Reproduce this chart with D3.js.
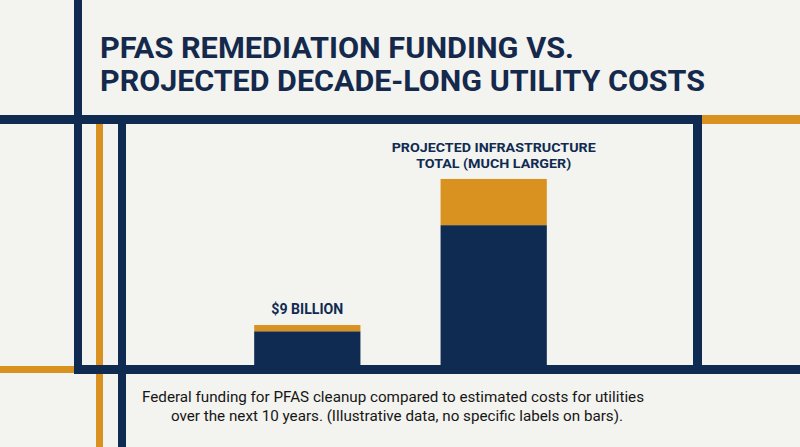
<!DOCTYPE html>
<html>
<head>
<meta charset="utf-8">
<script src="https://cdn.jsdelivr.net/npm/d3@7"></script>
<style>
  html, body { margin: 0; padding: 0; background: #f3f3ef; }
  svg { display: block; }
</style>
</head>
<body>
<svg id="chart" width="800" height="447"></svg>
<script>
// ---- data ----
const categories = ["Federal PFAS funding", "Projected utility costs"];
const baseValues = [7.6, 31.5];   // navy lower segment (billions, illustrative)
const topValues  = [1.4, 10.4];   // orange upper segment (billions, illustrative)
const barLabels  = [["$9 BILLION"], ["PROJECTED INFRASTRUCTURE", "TOTAL (MUCH LARGER)"]];
const titleLines = ["PFAS REMEDIATION FUNDING VS.", "PROJECTED DECADE-LONG UTILITY COSTS"];
const captionLines = [
  "Federal funding for PFAS cleanup compared to estimated costs for utilities",
  "over the next 10 years. (Illustrative data, no specific labels on bars)."
];

const NAVY = "#0f2b52", ORANGE = "#d9921f", BG = "#f3f3ef";

const svg = d3.select("#chart");
svg.append("rect").attr("width", 800).attr("height", 447).attr("fill", BG);

// ---- scales ----
const x = d3.scaleBand().domain(categories).range([161, 640]).paddingInner(0.43).paddingOuter(0.5);
const y = d3.scaleLinear().domain([0, 50]).range([365, 143]);

const table = categories.map((c, i) => ({ cat: c, base: baseValues[i], top: topValues[i] }));
const stacked = d3.stack().keys(["base", "top"])(table);
const colors = { base: NAVY, top: ORANGE };

// ---- decorative frame lines (behind) ----
const g = svg.append("g");
g.append("rect").attr("x", 96).attr("y", 124).attr("width", 7).attr("height", 323).attr("fill", ORANGE);
g.append("rect").attr("x", 0).attr("y", 366).attr("width", 75).attr("height", 7).attr("fill", ORANGE);
g.append("rect").attr("x", 702).attr("y", 115).attr("width", 98).attr("height", 9).attr("fill", ORANGE);
g.append("rect").attr("x", 0).attr("y", 115).attr("width", 702).attr("height", 9).attr("fill", NAVY);
g.append("rect").attr("x", 74).attr("y", 0).attr("width", 8).attr("height", 374).attr("fill", NAVY);
g.append("rect").attr("x", 118).attr("y", 124).attr("width", 8).attr("height", 323).attr("fill", NAVY);
g.append("rect").attr("x", 693).attr("y", 115).attr("width", 9).attr("height", 259).attr("fill", NAVY);
g.append("rect").attr("x", 74).attr("y", 365).attr("width", 726).attr("height", 9).attr("fill", NAVY);

// ---- bars ----
svg.append("g").selectAll("g").data(stacked).join("g")
  .attr("fill", d => colors[d.key])
  .selectAll("rect").data(d => d).join("rect")
  .attr("x", d => x(d.data.cat))
  .attr("width", x.bandwidth())
  .attr("y", d => y(d[1]))
  .attr("height", d => y(d[0]) - y(d[1]));

function fit(sel, w) {
  sel.attr("textLength", w).attr("lengthAdjust", "spacingAndGlyphs");
}

// ---- bar labels ----
const labelWidths = [[72], [204, 155]];
const labelSizes = [15, 13.5];
categories.forEach((c, i) => {
  const total = baseValues[i] + topValues[i];
  const lines = barLabels[i];
  const cx = x(c) + x.bandwidth() / 2;
  const baseY = y(total) - 11 - (lines.length - 1) * 16;
  lines.forEach((ln, j) => {
    const t = svg.append("text")
      .attr("x", cx).attr("y", baseY + j * 16)
      .attr("text-anchor", "middle")
      .attr("font-family", "Roboto, 'Liberation Sans', sans-serif")
      .attr("font-weight", 700).attr("font-size", labelSizes[i])
      .attr("fill", NAVY).text(ln);
    fit(t, labelWidths[i][j]);
  });
});

// ---- title ----
const titleWidths = [474, 605];
titleLines.forEach((ln, i) => {
  const t = svg.append("text")
    .attr("x", 100).attr("y", 58 + i * 32.5)
    .attr("font-family", "Roboto, 'Liberation Sans', sans-serif")
    .attr("font-weight", 700).attr("font-size", 29.5)
    .attr("fill", "#14294b").text(ln);
  fit(t, titleWidths[i]);
});

// ---- caption ----
const capX = [142, 171], capW = [502, 452];
captionLines.forEach((ln, i) => {
  const t = svg.append("text")
    .attr("x", capX[i]).attr("y", 402 + i * 18.5)
    .attr("font-family", "Roboto, 'Liberation Sans', sans-serif")
    .attr("font-weight", 400).attr("font-size", 15)
    .attr("fill", "#161616").text(ln);
  fit(t, capW[i]);
});
</script>
</body>
</html>
